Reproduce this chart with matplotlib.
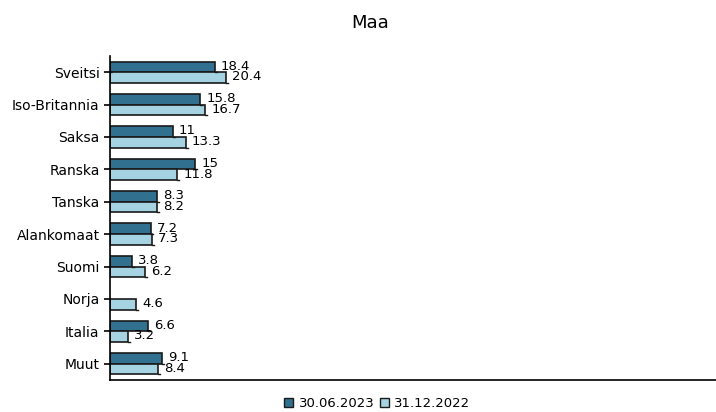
import numpy as np
import matplotlib.pyplot as plt

countries = ['Sveitsi', 'Iso-Britannia', 'Saksa', 'Ranska', 'Tanska',
             'Alankomaat', 'Suomi', 'Norja', 'Italia', 'Muut']
jun_2023 = [18.4, 15.8, 11, 15, 8.3, 7.2, 3.8, None, 6.6, 9.1]
dec_2022 = [20.4, 16.7, 13.3, 11.8, 8.2, 7.3, 6.2, 4.6, 3.2, 8.4]
series_names = ['30.06.2023', '31.12.2022']
colors = ['#31708f', '#a6d3e2']

fig = plt.figure(figsize=(7.16, 4.12), dpi=100)
ax = fig.add_axes([0.1536, 0.078, 0.8464, 0.786])

y = np.arange(len(countries))
h = 0.33
for i, (vals, col, name) in enumerate(zip([jun_2023, dec_2022], colors, series_names)):
    pos = y - h / 2 if i == 0 else y + h / 2
    for p, v in zip(pos, vals):
        if v is None:
            continue
        ax.barh(p, v, height=h, color=col, edgecolor='#1a1a1a', linewidth=1.2)
        ax.plot([v, v + 0.35], [p + h / 2, p + h / 2], color='#1a1a1a', lw=1)
        ax.text(v + 1.1, p - 0.02, f'{v:g}', va='center', ha='left', fontsize=9.5)
    ax.bar(0, 0, color=col, edgecolor='#1a1a1a', label=name)

ax.set_yticks(y)
ax.set_yticklabels(countries, fontsize=10)
ax.set_ylim(len(countries) - 0.5, -0.5)
ax.set_xlim(0, 106.5)
ax.set_xticks([])
ax.spines['top'].set_visible(False)
ax.spines['right'].set_visible(False)
ax.spines['left'].set_linewidth(1.2)
ax.spines['bottom'].set_linewidth(1.2)
ax.tick_params(axis='y', length=4, width=1.2)

fig.text(0.517, 0.945, 'Maa', ha='center', va='center', fontsize=13)
fig.legend(loc='center', bbox_to_anchor=(0.527, 0.02), ncol=2, frameon=False,
           fontsize=9.5, handlelength=0.7, handleheight=0.7, handletextpad=0.4,
           columnspacing=0.4, borderpad=0.1)

plt.savefig('out.png', dpi=100)
